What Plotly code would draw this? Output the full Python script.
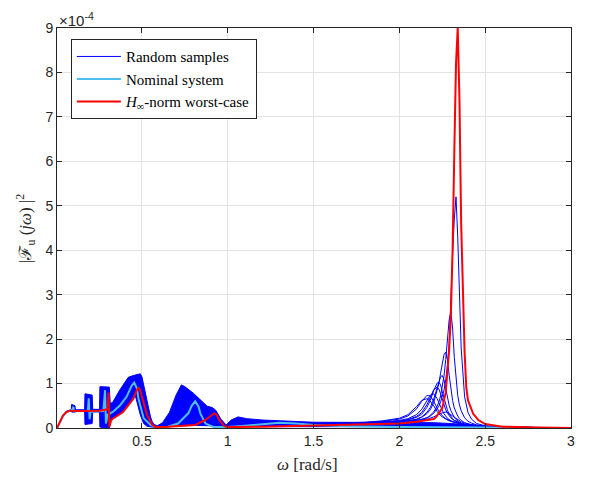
import plotly.graph_objects as go

# ---------------- data (values in units of 1e-4) ----------------
# envelope of the dense cloud of random samples
BAND_UP_W = [0.005, 0.02, 0.04, 0.06, 0.08, 0.088, 0.09, 0.11, 0.112, 0.14,
             0.166, 0.168, 0.21, 0.213, 0.25, 0.253, 0.255, 0.31, 0.315, 0.33,
             0.37, 0.42, 0.45, 0.48, 0.49, 0.50, 0.51, 0.52, 0.53, 0.54,
             0.55, 0.56, 0.57, 0.59, 0.62, 0.66, 0.70, 0.73, 0.75, 0.80,
             0.85, 0.88, 0.91, 0.93, 0.96, 0.99, 1.02, 1.06, 1.11, 1.2,
             1.5, 1.8, 2.0, 2.2, 2.4, 2.5, 2.7, 3.0]
BAND_UP = [0, 0.13, 0.29, 0.38, 0.41, 0.41, 0.53, 0.5, 0.41, 0.41,
           0.41, 0.77, 0.74, 0.42, 0.42, 0.42, 0.93, 0.92, 0.55, 0.58,
           0.85, 1.14, 1.18, 1.22, 1.22, 1.15, 0.98, 0.78, 0.58, 0.4,
           0.25, 0.14, 0.08, 0.05, 0.12, 0.35, 0.75, 0.97, 0.93, 0.78,
           0.6, 0.49, 0.46, 0.40, 0.2, 0.07, 0.18, 0.25, 0.21, 0.18,
           0.13, 0.13, 0.13, 0.12, 0.08, 0.04, 0.02, 0.01]
BAND_LO_W = [0.005, 0.02, 0.04, 0.06, 0.08, 0.088, 0.09, 0.11, 0.112, 0.14,
             0.166, 0.168, 0.21, 0.213, 0.25, 0.253, 0.255, 0.31, 0.315, 0.33,
             0.37, 0.40, 0.43, 0.45, 0.46, 0.47, 0.48, 0.49, 0.51, 0.53,
             0.56, 0.59, 0.7, 0.8, 0.9, 0.95, 1.0, 1.05, 1.2, 1.5,
             2.0, 2.5, 3.0]
BAND_LO = [0, 0.1, 0.26, 0.35, 0.38, 0.38, 0.36, 0.35, 0.37, 0.37,
           0.37, 0.08, 0.1, 0.36, 0.36, 0.36, 0.02, 0.0, 0.15, 0.22,
           0.3, 0.42, 0.58, 0.72, 0.75, 0.6, 0.45, 0.3, 0.1, 0.04,
           0.02, 0.01, 0.04, 0.06, 0.05, 0.03, 0.02, 0.03, 0.03, 0.03,
           0.03, 0.0, 0.0]

# individual random samples with visible high-frequency peaks
W_S = [1.6, 1.8, 1.9, 2.0, 2.05, 2.1, 2.13, 2.16, 2.17, 2.18,
       2.2, 2.22, 2.23, 2.24, 2.25, 2.26, 2.27, 2.28, 2.29, 2.3,
       2.31, 2.32, 2.33, 2.34, 2.35, 2.36, 2.38, 2.4, 2.42, 2.45,
       2.5, 2.6, 2.8, 3.0]
SAMPLE_1 = [0.11, 0.12, 0.12, 0.14, 0.15, 0.17, 0.19, 0.23, 0.25, 0.27,
            0.33, 0.42, 0.49, 0.58, 0.69, 0.85, 1.08, 1.41, 1.9, 3.0,
            3.9, 4.7, 5.2, 4.3, 2.85, 1.8, 0.7, 0.35, 0.2, 0.1,
            0.05, 0.02, 0.01, 0.0]
SAMPLE_2 = [0.11, 0.11, 0.12, 0.14, 0.14, 0.16, 0.19, 0.23, 0.25, 0.28,
            0.36, 0.49, 0.58, 0.72, 0.91, 1.17, 1.54, 1.99, 2.43, 2.61,
            2.25, 1.59, 1.07, 0.73, 0.52, 0.39, 0.23, 0.15, 0.11, 0.07,
            0.04, 0.02, 0.01, 0.0]
SAMPLE_3 = [0.11, 0.12, 0.12, 0.15, 0.16, 0.19, 0.24, 0.32, 0.36, 0.41,
            0.57, 0.83, 1.0, 1.23, 1.46, 1.65, 1.71, 1.54, 1.19, 0.86,
            0.62, 0.45, 0.34, 0.27, 0.21, 0.17, 0.12, 0.09, 0.07, 0.05,
            0.03, 0.02, 0.01, 0.0]
SAMPLE_4 = [0.11, 0.11, 0.12, 0.15, 0.16, 0.2, 0.25, 0.35, 0.4, 0.46,
            0.65, 0.91, 1.05, 1.15, 1.18, 1.09, 0.89, 0.68, 0.51, 0.39,
            0.3, 0.24, 0.19, 0.16, 0.13, 0.11, 0.08, 0.06, 0.05, 0.04,
            0.03, 0.02, 0.01, 0.0]
SAMPLE_5 = [0.11, 0.12, 0.13, 0.16, 0.18, 0.24, 0.31, 0.46, 0.53, 0.62,
            0.84, 1.01, 1.03, 0.97, 0.82, 0.66, 0.52, 0.4, 0.32, 0.25,
            0.21, 0.17, 0.15, 0.13, 0.11, 0.1, 0.08, 0.06, 0.05, 0.04,
            0.03, 0.02, 0.01, 0.0]
SAMPLE_6 = [0.11, 0.12, 0.13, 0.16, 0.19, 0.26, 0.35, 0.52, 0.6, 0.69,
            0.86, 0.92, 0.88, 0.77, 0.64, 0.51, 0.41, 0.33, 0.27, 0.23,
            0.19, 0.17, 0.15, 0.13, 0.12, 0.1, 0.08, 0.07, 0.06, 0.04,
            0.03, 0.02, 0.01, 0.0]
SAMPLE_7 = [0.11, 0.12, 0.13, 0.17, 0.21, 0.3, 0.42, 0.61, 0.69, 0.74,
            0.77, 0.66, 0.57, 0.47, 0.4, 0.32, 0.26, 0.22, 0.19, 0.16,
            0.14, 0.13, 0.12, 0.11, 0.1, 0.09, 0.08, 0.07, 0.06, 0.04,
            0.03, 0.02, 0.01, 0.0]
SAMPLE_8 = [0.11, 0.12, 0.15, 0.2, 0.27, 0.43, 0.6, 0.73, 0.73, 0.72,
            0.6, 0.44, 0.37, 0.32, 0.27, 0.24, 0.21, 0.19, 0.17, 0.15,
            0.14, 0.13, 0.12, 0.11, 0.1, 0.09, 0.08, 0.07, 0.06, 0.04,
            0.03, 0.02, 0.01, 0.0]
SAMPLE_9 = [0.11, 0.13, 0.16, 0.22, 0.3, 0.48, 0.62, 0.66, 0.65, 0.6,
            0.5, 0.37, 0.32, 0.28, 0.25, 0.22, 0.2, 0.18, 0.16, 0.15,
            0.14, 0.13, 0.12, 0.11, 0.1, 0.09, 0.08, 0.07, 0.06, 0.04,
            0.03, 0.02, 0.01, 0.0]
SAMPLE_10 = [0.1, 0.11, 0.12, 0.13, 0.14, 0.16, 0.18, 0.2, 0.21, 0.22,
             0.25, 0.29, 0.31, 0.33, 0.34, 0.35, 0.36, 0.35, 0.33, 0.3,
             0.27, 0.24, 0.21, 0.18, 0.16, 0.14, 0.11, 0.09, 0.07, 0.05,
             0.03, 0.02, 0.01, 0.0]

# nominal system
NOM_W = [0.005, 0.02, 0.04, 0.06, 0.08, 0.095, 0.10, 0.104, 0.11, 0.15,
         0.185, 0.19, 0.195, 0.2, 0.22, 0.275, 0.285, 0.29, 0.30, 0.33,
         0.37, 0.41, 0.44, 0.455, 0.47, 0.48, 0.51, 0.55, 0.58, 0.65,
         0.71, 0.77, 0.79, 0.81, 0.83, 0.84, 0.87, 0.92, 1.0, 1.1,
         1.2, 1.3, 1.4, 1.5, 1.7, 2.0, 2.5, 3.0]
NOM = [0, 0.12, 0.28, 0.36, 0.39, 0.41, 0.48, 0.36, 0.38, 0.38,
       0.39, 0.67, 0.2, 0.36, 0.37, 0.38, 0.85, 0.1, 0.3, 0.36,
       0.5, 0.70, 0.95, 1.02, 0.9, 0.66, 0.22, 0.07, 0.02, 0.03,
       0.1, 0.33, 0.5, 0.6, 0.48, 0.33, 0.1, 0.02, 0.02, 0.05,
       0.09, 0.12, 0.1, 0.07, 0.04, 0.02, 0.01, 0.0]

# H-infinity worst case
WC_W = [0.005, 0.02, 0.04, 0.06, 0.08, 0.15, 0.2, 0.25, 0.30, 0.305,
        0.31, 0.32, 0.33, 0.39, 0.45, 0.47, 0.48, 0.49, 0.50, 0.53,
        0.56, 0.58, 0.65, 0.71, 0.81, 0.87, 0.90, 0.92, 0.935, 0.95,
        0.98, 1.0, 1.2, 1.5, 1.8, 2.0, 2.1, 2.2, 2.215, 2.25,
        2.27, 2.28, 2.29, 2.30, 2.31, 2.32, 2.33, 2.34, 2.35, 2.36,
        2.37, 2.38, 2.39, 2.40, 2.43, 2.46, 2.5, 2.6, 2.8, 3.0]
WC = [0, 0.12, 0.28, 0.36, 0.39, 0.38, 0.38, 0.39, 0.42, 0.8,
      0.02, 0.17, 0.21, 0.36, 0.66, 0.85, 0.9, 0.85, 0.7, 0.29,
      0.07, 0.02, 0.03, 0.04, 0.07, 0.18, 0.28, 0.33, 0.3, 0.18,
      0.04, 0.02, 0.03, 0.05, 0.07, 0.1, 0.14, 0.2, 0.25, 0.45,
      0.8, 1.2, 1.75, 2.55, 4.0, 6.2, 8.2, 9.0, 7.4, 4.6,
      3.0, 1.7, 0.9, 0.62, 0.32, 0.18, 0.09, 0.03, 0.01, 0.0]

X_TICKS = [0.5, 1, 1.5, 2, 2.5, 3]
X_TICK_TEXT = ["0.5", "1", "1.5", "2", "2.5", "3"]
Y_TICKS = [0, 1, 2, 3, 4, 5, 6, 7, 8, 9]

# ---------------- figure ----------------
BLUE = "#0000FF"
CYAN = "#4DBEEE"
RED = "#FF0000"
AX = "#262626"
SERIF = "Liberation Serif, Times New Roman, serif"
SANS = "Liberation Sans, Arial, sans-serif"

fig = go.Figure()

fig.add_trace(go.Scatter(
    x=BAND_UP_W + BAND_LO_W[::-1], y=BAND_UP + BAND_LO[::-1],
    mode="lines", fill="toself", fillcolor=BLUE,
    line=dict(color=BLUE, width=1), showlegend=False, hoverinfo="skip"))

samples = [SAMPLE_1, SAMPLE_2, SAMPLE_3, SAMPLE_4, SAMPLE_5,
           SAMPLE_6, SAMPLE_7, SAMPLE_8, SAMPLE_9, SAMPLE_10]
for i, s in enumerate(samples):
    fig.add_trace(go.Scatter(
        x=W_S, y=s, mode="lines", line=dict(color=BLUE, width=1),
        name="Random samples", showlegend=(i == 0)))

fig.add_trace(go.Scatter(x=NOM_W, y=NOM, mode="lines",
                         line=dict(color=CYAN, width=2),
                         name="Nominal system"))
fig.add_trace(go.Scatter(x=WC_W, y=WC, mode="lines",
                         line=dict(color=RED, width=2),
                         name="<i>H</i><sub>∞</sub>-norm worst-case"))

axis_common = dict(
    showgrid=True, gridcolor="#E3E3E3", gridwidth=1,
    showline=True, linecolor=AX, linewidth=1, mirror="allticks",
    ticks="inside", ticklen=5, tickcolor=AX, zeroline=False,
    tickfont=dict(family=SANS, size=14, color=AX),
)

# page body has an 8px margin, so the figure is 8px smaller each way
fig.update_layout(
    width=584, height=469,
    margin=dict(l=49, r=21, t=16, b=49),
    plot_bgcolor="white", paper_bgcolor="white",
    xaxis=dict(range=[0.005, 3], tickvals=X_TICKS, ticktext=X_TICK_TEXT, **axis_common),
    yaxis=dict(range=[0, 9], tickvals=Y_TICKS, **axis_common),
    legend=dict(x=0.027, y=0.972, xanchor="left", yanchor="top",
                bgcolor="white", bordercolor=AX, borderwidth=1,
                font=dict(family=SERIF, size=15, color="black"),
                tracegroupgap=0, itemwidth=44),
    annotations=[
        dict(text="×10<sup>-4</sup>", xref="paper", yref="paper", x=0.0, y=1.0,
             xanchor="left", yanchor="bottom", showarrow=False, yshift=-3,
             font=dict(family=SANS, size=15, color=AX)),
        dict(text="<i>ω</i> [rad/s]", xref="paper", yref="paper", x=0.488, y=-0.0916,
             xanchor="center", yanchor="middle", showarrow=False,
             font=dict(family=SERIF, size=17, color=AX)),
        dict(text="|ℱ<sub>u</sub> (<i>jω</i>) |<sup>2</sup>", xref="paper", yref="paper",
             x=-0.0623, y=0.5, xanchor="center", yanchor="middle", textangle=-90,
             showarrow=False,
             font=dict(family=SERIF, size=17, color=AX)),
    ],
)

fig.write_html("out.html")
